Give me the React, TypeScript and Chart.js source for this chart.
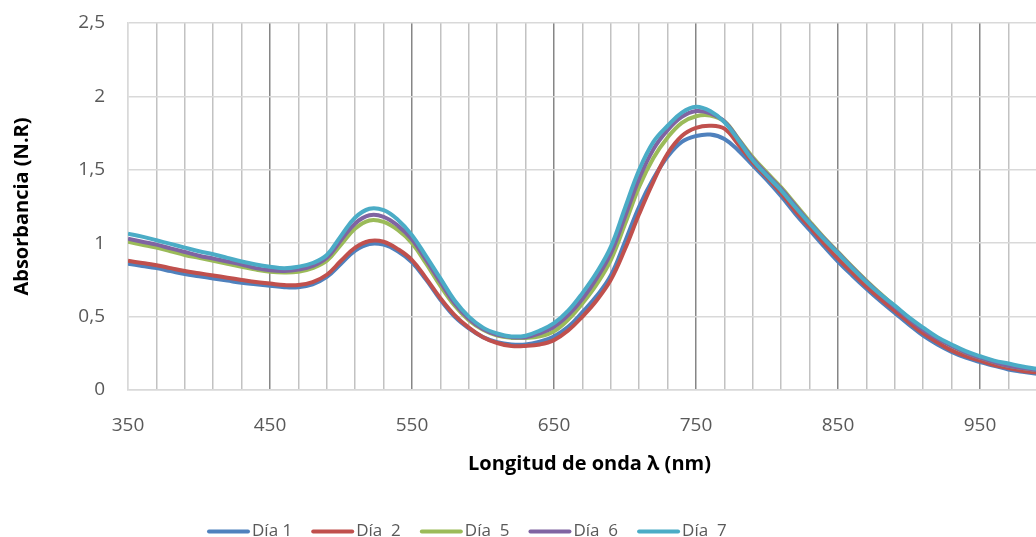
import React, { useEffect, useRef } from 'react';
import { Chart, registerables } from 'chart.js';

Chart.register(...registerables);

// ---- Data ----
const wavelengths = [
  350, 360, 370, 380, 390, 400, 410, 420, 430, 440, 450, 460, 470, 480, 490, 500,
  510, 520, 530, 540, 550, 560, 570, 580, 590, 600, 610, 620, 630, 640, 650, 660,
  670, 680, 690, 700, 710, 720, 730, 740, 750, 760, 770, 780, 790, 800, 810, 820,
  830, 840, 850, 860, 870, 880, 890, 900, 910, 920, 930, 940, 950, 960, 970, 980, 990,
];

const dia1 = [
  0.86, 0.845, 0.83, 0.81, 0.79, 0.775, 0.76, 0.745, 0.73, 0.72, 0.71, 0.70, 0.70, 0.72, 0.77, 0.86,
  0.95, 0.995, 0.99, 0.945, 0.87, 0.75, 0.615, 0.50, 0.42, 0.36, 0.325, 0.31, 0.31, 0.33, 0.365, 0.43,
  0.53, 0.64, 0.78, 1.01, 1.25, 1.44, 1.59, 1.69, 1.73, 1.74, 1.71, 1.63, 1.53, 1.43, 1.32, 1.20,
  1.09, 0.98, 0.875, 0.78, 0.69, 0.605, 0.525, 0.445, 0.37, 0.31, 0.26, 0.22, 0.19, 0.165, 0.14, 0.125, 0.11,
];

const dia2 = [
  0.88, 0.865, 0.85, 0.83, 0.81, 0.795, 0.78, 0.765, 0.75, 0.735, 0.725, 0.715, 0.715, 0.735, 0.785, 0.88,
  0.97, 1.015, 1.01, 0.96, 0.885, 0.76, 0.625, 0.51, 0.425, 0.36, 0.32, 0.30, 0.30, 0.31, 0.34, 0.405,
  0.50, 0.61, 0.75, 0.96, 1.20, 1.42, 1.61, 1.73, 1.785, 1.80, 1.78, 1.67, 1.55, 1.45, 1.34, 1.22,
  1.11, 1.00, 0.895, 0.80, 0.705, 0.62, 0.54, 0.46, 0.385, 0.325, 0.27, 0.23, 0.20, 0.17, 0.15, 0.13, 0.12,
];

const dia5 = [
  1.01, 0.99, 0.97, 0.945, 0.92, 0.90, 0.88, 0.86, 0.84, 0.82, 0.805, 0.80, 0.805, 0.83, 0.88, 0.99,
  1.10, 1.155, 1.145, 1.09, 1.00, 0.86, 0.71, 0.575, 0.475, 0.41, 0.37, 0.355, 0.355, 0.365, 0.40, 0.48,
  0.59, 0.72, 0.885, 1.13, 1.385, 1.58, 1.72, 1.82, 1.865, 1.87, 1.83, 1.71, 1.585, 1.48, 1.38, 1.265,
  1.15, 1.04, 0.94, 0.84, 0.745, 0.655, 0.57, 0.49, 0.415, 0.355, 0.30, 0.255, 0.22, 0.19, 0.165, 0.15, 0.135,
];

const dia6 = [
  1.03, 1.01, 0.99, 0.965, 0.94, 0.915, 0.895, 0.875, 0.855, 0.83, 0.815, 0.81, 0.82, 0.845, 0.90, 1.02,
  1.135, 1.19, 1.18, 1.12, 1.025, 0.885, 0.735, 0.59, 0.485, 0.415, 0.375, 0.36, 0.36, 0.385, 0.43, 0.51,
  0.62, 0.76, 0.93, 1.18, 1.44, 1.64, 1.77, 1.86, 1.90, 1.885, 1.83, 1.705, 1.575, 1.47, 1.37, 1.255,
  1.14, 1.035, 0.935, 0.835, 0.74, 0.65, 0.565, 0.485, 0.41, 0.35, 0.30, 0.255, 0.22, 0.19, 0.165, 0.15, 0.135,
];

const dia7 = [
  1.065, 1.045, 1.02, 0.995, 0.97, 0.945, 0.925, 0.90, 0.875, 0.855, 0.84, 0.83, 0.84, 0.865, 0.92, 1.05,
  1.175, 1.235, 1.225, 1.16, 1.055, 0.91, 0.76, 0.61, 0.50, 0.425, 0.385, 0.365, 0.37, 0.405, 0.455, 0.54,
  0.66, 0.80, 0.975, 1.24, 1.50, 1.69, 1.80, 1.89, 1.93, 1.90, 1.825, 1.70, 1.565, 1.46, 1.36, 1.245,
  1.135, 1.03, 0.93, 0.83, 0.735, 0.65, 0.575, 0.495, 0.425, 0.36, 0.31, 0.265, 0.23, 0.20, 0.18, 0.16, 0.145,
];

const seriesValues = [dia1, dia2, dia5, dia6, dia7];
const seriesLabels = ['Día 1', 'Día  2', 'Día  5', 'Día  6', 'Día  7'];
const seriesColors = ['#4F81BD', '#C0504D', '#9BBB59', '#8064A2', '#4BACC6'];

// Tick / grid values
const xGridValues = [
  350, 370, 390, 410, 430, 450, 470, 490, 510, 530, 550, 570, 590, 610, 630, 650, 670,
  690, 710, 730, 750, 770, 790, 810, 830, 850, 870, 890, 910, 930, 950, 970, 990,
];
const xTickLabels = [350, 450, 550, 650, 750, 850, 950];
const yTickLabels = ['0', '0,5', '1', '1,5', '2', '2,5'];

const xTitle = 'Longitud de onda λ (nm)';
const yTitle = 'Absorbancia (N.R)';

const FONT = '"Open Sans", "DejaVu Sans", sans-serif';
const TEXT_COLOR = '#595959';

const legendPlugin = {
  id: 'bottomLegend',
  afterDraw(chart: any) {
    const ctx = chart.ctx as CanvasRenderingContext2D;
    ctx.save();
    ctx.font = `17px ${FONT}`;
    ctx.textBaseline = 'alphabetic';
    ctx.textAlign = 'left';
    let x = 207;
    const lineY = 531.5;
    const textY = 536;
    chart.data.datasets.forEach((ds: any) => {
      ctx.strokeStyle = ds.borderColor;
      ctx.lineWidth = 4;
      ctx.lineCap = 'round';
      ctx.beginPath();
      ctx.moveTo(x + 2, lineY);
      ctx.lineTo(x + 41, lineY);
      ctx.stroke();
      ctx.fillStyle = TEXT_COLOR;
      ctx.fillText(ds.label, x + 45, textY);
      const w = ctx.measureText(ds.label).width;
      x += 45 + w + 19;
    });
    ctx.restore();
  },
};

export default function App() {
  const canvasRef = useRef<HTMLCanvasElement | null>(null);

  useEffect(() => {
    const canvas = canvasRef.current;
    if (!canvas) return;

    const datasets = seriesValues.map((vals, i) => ({
      label: seriesLabels[i],
      data: vals.map((y, j) => ({ x: wavelengths[j], y })),
      borderColor: seriesColors[i],
      backgroundColor: seriesColors[i],
      borderWidth: 4,
      pointRadius: 0,
      pointHoverRadius: 0,
      tension: 0.4,
      fill: false,
      order: seriesValues.length - i,
    }));

    const chart = new Chart(canvas, {
      type: 'line',
      data: { datasets },
      options: {
        animation: false,
        responsive: false,
        maintainAspectRatio: false,
        events: [],
        layout: { padding: { top: 23, right: 1, bottom: 47, left: 0 } },
        plugins: {
          legend: { display: false },
          tooltip: { enabled: false },
        },
        scales: {
          x: {
            type: 'linear',
            min: 350,
            max: 1000,
            afterBuildTicks: (scale: any) => {
              scale.ticks = xGridValues.map((v) => ({ value: v }));
            },
            afterFit: (scale: any) => {
              scale.height = 100;
              scale.paddingLeft = 0;
              scale.paddingRight = 0;
              scale.paddingTop = 0;
              scale.paddingBottom = 0;
            },
            ticks: {
              autoSkip: false,
              maxRotation: 0,
              padding: 24,
              color: TEXT_COLOR,
              font: { family: FONT, size: 19 },
              callback: (value: any) => (xTickLabels.includes(Number(value)) ? String(value) : ''),
            },
            grid: {
              drawTicks: false,
              lineWidth: 1.5,
              color: (ctx: any) => {
                const v = ctx.tick ? ctx.tick.value : 0;
                if (v === 350) return '#d9d9d9';
                if ((v - 350) % 100 === 0) return '#868686';
                return '#c2c2c2';
              },
            },
            border: { display: true, color: '#d9d9d9', width: 1.5 },
            title: {
              display: true,
              text: xTitle,
              color: '#000000',
              font: { family: FONT, size: 20, weight: 'bold' },
              padding: { top: 0, bottom: 14 },
            },
          },
          y: {
            type: 'linear',
            min: 0,
            max: 2.5,
            afterFit: (scale: any) => {
              scale.width = 128;
              scale.paddingTop = 0;
              scale.paddingBottom = 0;
              scale.paddingLeft = 0;
              scale.paddingRight = 0;
            },
            ticks: {
              stepSize: 0.5,
              padding: 23,
              color: TEXT_COLOR,
              font: { family: FONT, size: 19 },
              callback: (_v: any, i: number) => yTickLabels[i],
            },
            grid: {
              drawTicks: false,
              lineWidth: 1.5,
              color: '#d9d9d9',
            },
            border: { display: true, color: '#d9d9d9', width: 1.5 },
            title: {
              display: true,
              text: yTitle,
              color: '#000000',
              font: { family: FONT, size: 20, weight: 'bold' },
              padding: { top: 10, bottom: 0 },
            },
          },
        },
      },
      plugins: [legendPlugin],
    } as any);

    return () => {
      chart.destroy();
    };
  }, []);

  return (
    <div
      style={{
        position: 'fixed',
        left: 0,
        top: 0,
        width: 1036,
        height: 537,
        overflow: 'hidden',
        background: '#ffffff',
      }}
    >
      <canvas ref={canvasRef} width={1052} height={537} style={{ display: 'block' }} />
    </div>
  );
}
